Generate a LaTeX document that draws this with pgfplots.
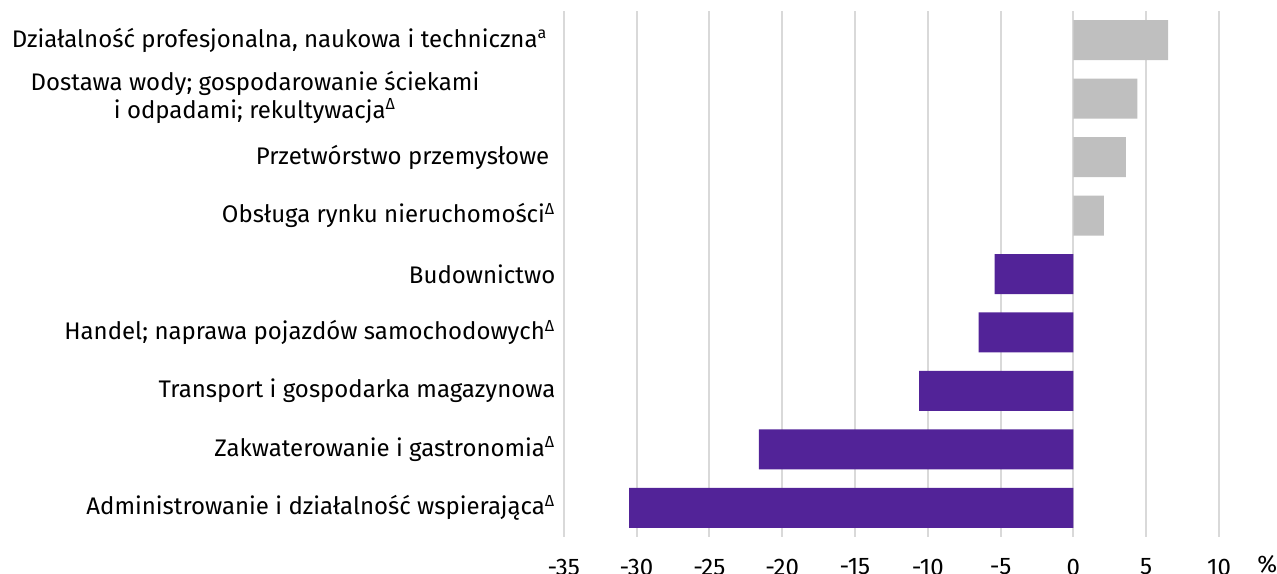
\documentclass[border=0pt]{standalone}
\usepackage{pgfplots}
\pgfplotsset{compat=1.18}
\usepackage{fontspec}
\setmainfont{Fira Sans}

\definecolor{barpurple}{HTML}{522398}
\definecolor{bargray}{HTML}{BFBFBF}
\definecolor{gridgray}{HTML}{D9D9D9}

\begin{document}
\fontsize{12pt}{14pt}\selectfont
\begin{tikzpicture}
\begin{axis}[
    name=ax,
    scale only axis,
    width=327.65pt,
    height=263pt,
    xbar,
    bar width=20pt,
    xmin=-35, xmax=10,
    ymin=-0.5, ymax=8.5,
    y dir=reverse,
    xtick={-35,-30,-25,-20,-15,-10,-5,0,5,10},
    xticklabels={-35,-30,-25,-20,-15,-10,-5,0,5,10},
    ytick={0,1,2,3,4,5,6,7,8},
    yticklabels={
        {Działalność profesjonalna, naukowa i techniczna\textsuperscript{a}\hspace*{4pt}},
        {\begin{tabular}{@{}c@{}}Dostawa wody; gospodarowanie ściekami\\i odpadami; rekultywacja\textsuperscript{Δ}\end{tabular}\hspace*{38pt}},
        {Przetwórstwo przemysłowe\hspace*{3pt}},
        {Obsługa rynku nieruchomości\textsuperscript{Δ}},
        {Budownictwo},
        {Handel; naprawa pojazdów samochodowych\textsuperscript{Δ}},
        {Transport i gospodarka magazynowa},
        {Zakwaterowanie i gastronomia\textsuperscript{Δ}},
        {Administrowanie i działalność wspierająca\textsuperscript{Δ}}
    },
    tick label style={font=\fontsize{12pt}{14pt}\selectfont},
    xticklabel style={yshift=-6.7pt},
    major tick length=0pt,
    axis line style={draw=none},
    xmajorgrids,
    grid style={gridgray, line width=1pt},
]
\addplot[fill=bargray, draw=none, bar shift=0pt] coordinates {
    (6.5,0)
    (4.4,1)
    (3.6,2)
    (2.1,3)
};
\addplot[fill=barpurple, draw=none, bar shift=0pt] coordinates {
    (-5.4,4)
    (-6.5,5)
    (-10.6,6)
    (-21.6,7)
    (-30.5,8)
};
\end{axis}
\node[anchor=north west, inner sep=0pt] at ([xshift=19pt, yshift=-9pt]ax.south east) {\%};
\pgfresetboundingbox
\path[use as bounding box] ([xshift=-281.85pt, yshift=-18pt]ax.south west) rectangle ([xshift=29pt, yshift=5.5pt]ax.north east);
\end{tikzpicture}
\end{document}
